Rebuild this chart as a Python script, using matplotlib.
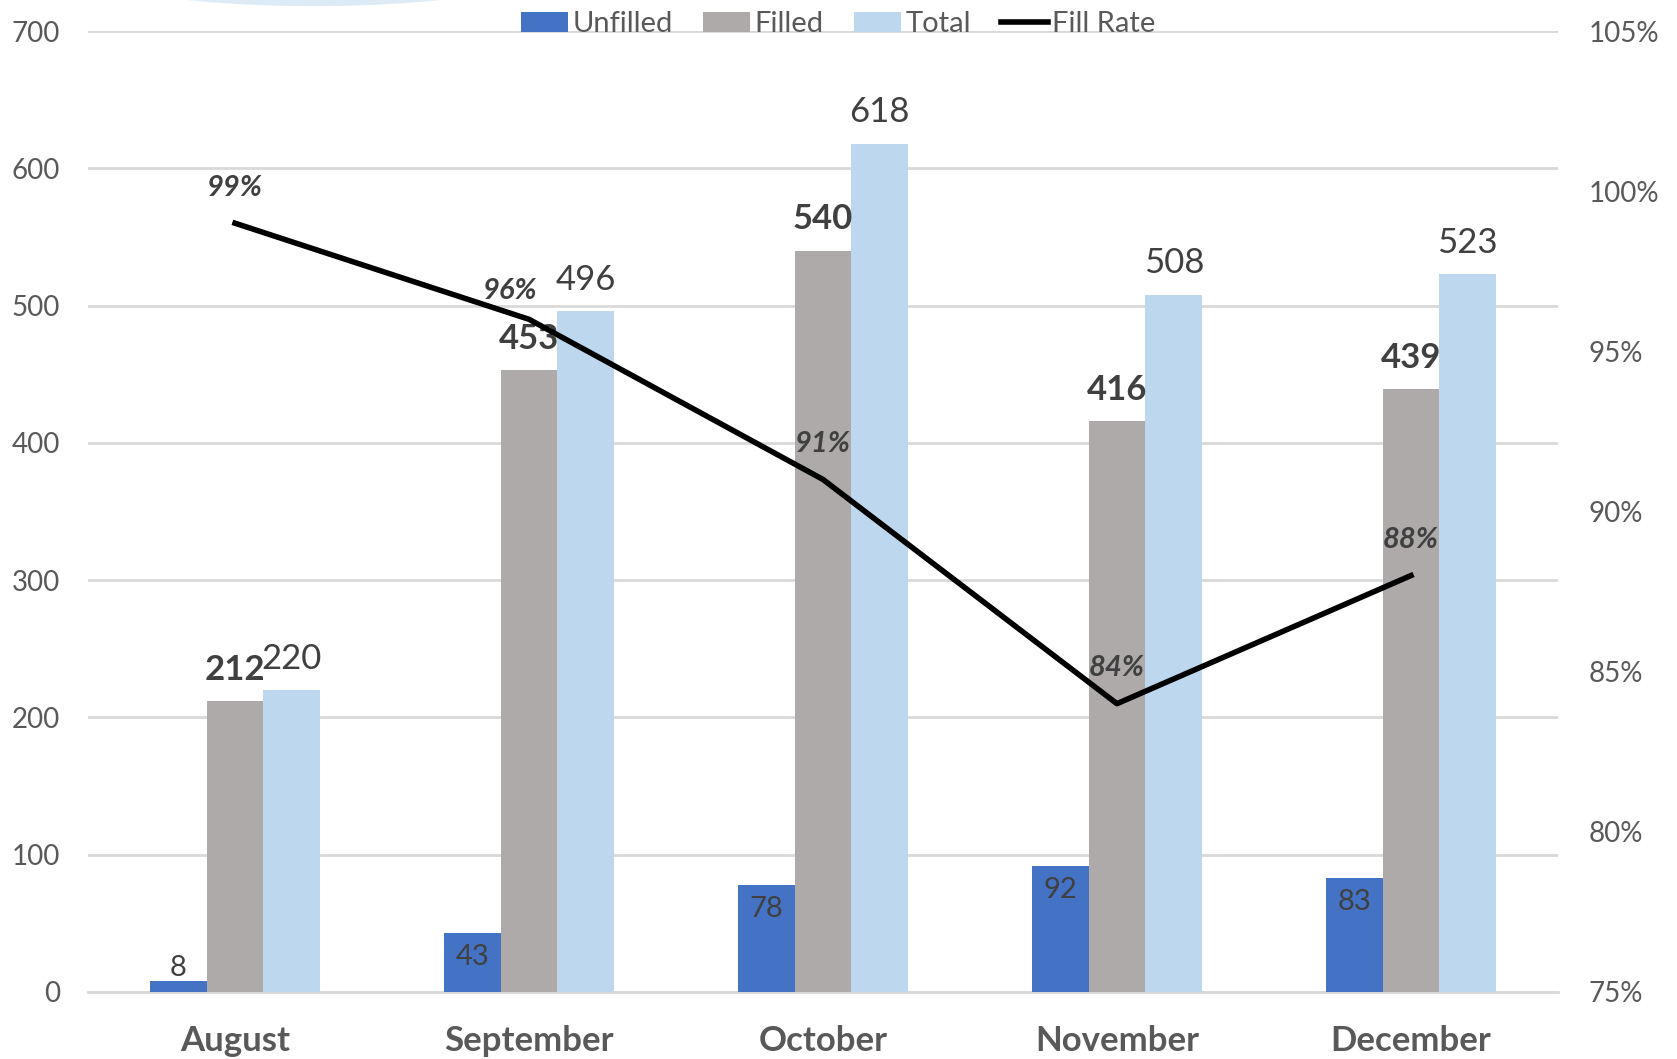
import numpy as np
import matplotlib.pyplot as plt
from matplotlib.patches import Ellipse

months = ['August', 'September', 'October', 'November', 'December']
unfilled = [8, 43, 78, 92, 83]
filled = [212, 453, 540, 416, 439]
total = [220, 496, 618, 508, 523]
fill_rate = [99, 96, 91, 84, 88]
fill_labels = ['99%', '96%', '91%', '84%', '88%']

plt.rcParams['font.family'] = ['Lato', 'DejaVu Sans']

c_unf = '#4472C4'
c_fil = '#AEAAAA'
c_tot = '#BDD7EE'
grid_c = '#D9D9D9'
tick_c = '#595959'
lab_c = '#404040'

fig = plt.figure(figsize=(16.77, 10.59), dpi=100)
ax = fig.add_axes([0.0525, 0.0633, 0.8765, 0.9074])
ax2 = ax.twinx()

x = np.arange(len(months))
w = 0.193

b1 = ax.bar(x - w, unfilled, w, color=c_unf, label='Unfilled', zorder=3)
b2 = ax.bar(x, filled, w, color=c_fil, label='Filled', zorder=3)
b3 = ax.bar(x + w, total, w, color=c_tot, label='Total', zorder=3)

for xi, v in zip(x - w, unfilled):
    if v < 20:
        ax.annotate(str(v), (xi, v), xytext=(0, 0), textcoords='offset points',
                    ha='center', va='bottom', fontsize=21, color=lab_c, zorder=5)
    else:
        ax.annotate(str(v), (xi, v), xytext=(0, -8), textcoords='offset points',
                    ha='center', va='top', fontsize=21, color=lab_c, zorder=5)
for xi, v in zip(x, filled):
    ax.annotate(str(v), (xi, v), xytext=(0, 11), textcoords='offset points',
                ha='center', va='bottom', fontsize=25, fontweight='bold', color=lab_c, zorder=5)
for xi, v in zip(x + w, total):
    ax.annotate(str(v), (xi, v), xytext=(0, 11), textcoords='offset points',
                ha='center', va='bottom', fontsize=25, color=lab_c, zorder=5)

ax.set_xlim(-0.5, len(months) - 0.5)
ax.set_ylim(0, 700)
ax.set_yticks(range(0, 701, 100))
ax.yaxis.grid(True, color=grid_c, lw=2, zorder=0)
ax.set_axisbelow(True)
ax.set_xticks(x)
ax.set_xticklabels(months, fontsize=25, fontweight='bold', color=tick_c)
ax.tick_params(axis='x', length=0, pad=24)
ax.tick_params(axis='y', length=0, pad=20, labelsize=20, labelcolor=tick_c)
for s in ax.spines.values():
    s.set_visible(False)
ax.spines['bottom'].set_visible(True)
ax.spines['bottom'].set_color(grid_c)
ax.spines['bottom'].set_linewidth(2)

line, = ax2.plot(x, fill_rate, color='black', lw=4, label='Fill Rate', zorder=4)
ax2.set_ylim(75, 105)
ax2.set_yticks(range(75, 106, 5))
ax2.set_yticklabels([f'{t}%' for t in range(75, 106, 5)])
ax2.tick_params(axis='y', length=0, pad=22, labelsize=20, labelcolor=tick_c)
for s in ax2.spines.values():
    s.set_visible(False)

offsets = [(0, 16), (-14, 11), (0, 16), (0, 16), (0, 16)]
for xi, v, t, off in zip(x, fill_rate, fill_labels, offsets):
    ax2.annotate(t, (xi, v), xytext=off, textcoords='offset points',
                 ha='center', va='bottom', fontsize=21, fontweight='bold',
                 fontstyle='italic', color=lab_c, zorder=6)

fig.legend(handles=[b1, b2, b3, line], loc='upper center', bbox_to_anchor=(0.5, 1.014),
           ncol=4, frameon=False, fontsize=21, handlelength=1.6, handleheight=0.7,
           columnspacing=1.05, handletextpad=0.15, labelcolor=tick_c)

# faint arc at the top edge
fig.patches.append(Ellipse((0.187, 1.04), 0.3, 0.085, transform=fig.transFigure,
                           facecolor='none', edgecolor='#DDEBF7', lw=5))

plt.savefig('out.png', dpi=100)
